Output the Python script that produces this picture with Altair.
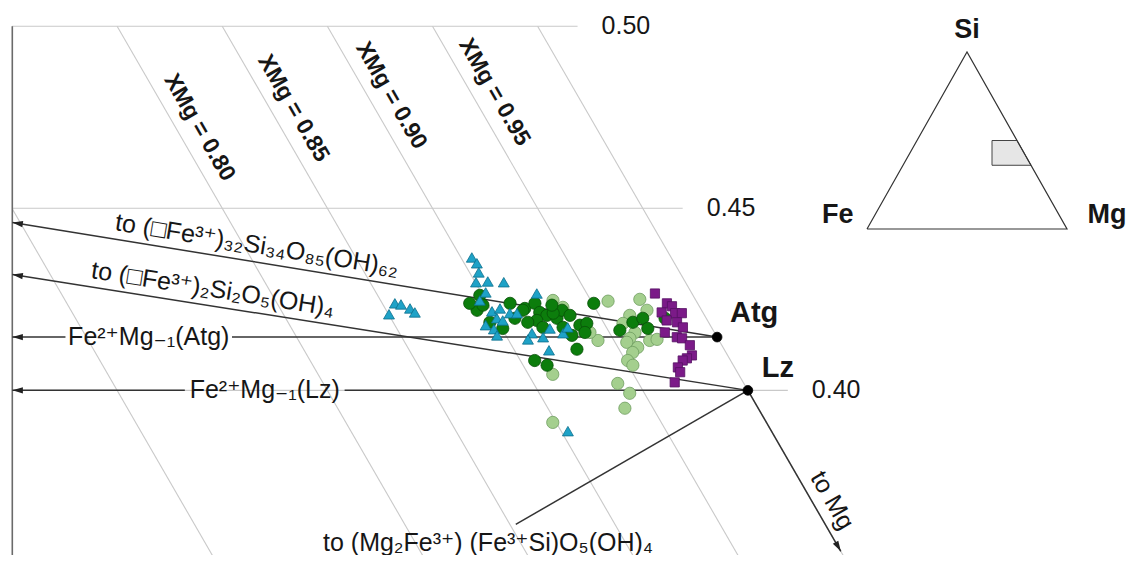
import math
import altair as alt
import pandas as pd

# ---------------- data (atomic fractions Si/(Si+Mg+Fe), Mg/(Si+Mg+Fe)) ----------------
cyan_si = [0.4365, 0.4349, 0.4324, 0.4297, 0.4299, 0.4297, 0.4269, 0.4247, 0.4239, 0.4236,
           0.4225, 0.4214, 0.4209, 0.4266, 0.4217, 0.4225, 0.4212, 0.4212, 0.4198, 0.4192,
           0.4179, 0.4168, 0.4151, 0.4157, 0.4140, 0.4146, 0.4170, 0.4157, 0.4110, 0.3888, 0.4173]
cyan_mg = [0.5161, 0.5181, 0.5198, 0.5205, 0.5232, 0.5271, 0.5242, 0.5239, 0.5041, 0.5057,
           0.5084, 0.5101, 0.5042, 0.5365, 0.5283, 0.5298, 0.5328, 0.5345, 0.5304, 0.5321,
           0.5287, 0.5312, 0.5328, 0.5408, 0.5407, 0.5440, 0.5444, 0.5482, 0.5472, 0.5628, 0.5485]

dgreen_si = [0.4261, 0.4220, 0.4234, 0.4187, 0.4170, 0.4239, 0.4225, 0.4239, 0.4214, 0.4206,
             0.4192, 0.4173, 0.4198, 0.4220, 0.4082, 0.4069, 0.4220, 0.4212, 0.4173, 0.4151,
             0.4206, 0.4179, 0.4184, 0.4159, 0.4239, 0.4113, 0.4165, 0.4187, 0.4198, 0.4170,
             0.4198, 0.4239, 0.4198, 0.4187, 0.4234]
dgreen_mg = [0.5232, 0.5246, 0.5253, 0.5293, 0.5332, 0.5315, 0.5357, 0.5374, 0.5398, 0.5419,
             0.5402, 0.5426, 0.5447, 0.5448, 0.5452, 0.5488, 0.5355, 0.5431, 0.5474, 0.5506,
             0.5474, 0.5511, 0.5525, 0.5533, 0.5514, 0.5537, 0.5613, 0.5633, 0.5651, 0.5677,
             0.5704, 0.5219, 0.5347, 0.5383, 0.5417]

lgreen_si = [0.4247, 0.4228, 0.4044, 0.3912, 0.4245, 0.4250, 0.4220, 0.4206, 0.4184, 0.4159,
             0.4143, 0.4132, 0.4118, 0.4104, 0.4137, 0.4140, 0.4137, 0.4159, 0.4082, 0.4069,
             0.4019, 0.3992, 0.3951]
lgreen_mg = [0.5413, 0.5446, 0.5514, 0.5580, 0.5545, 0.5618, 0.5650, 0.5616, 0.5611, 0.5652,
             0.5648, 0.5646, 0.5679, 0.5674, 0.5698, 0.5714, 0.5575, 0.5545, 0.5673, 0.5692,
             0.5681, 0.5723, 0.5732]

purple_si = [0.4266, 0.4239, 0.4231, 0.4214, 0.4212, 0.4212, 0.4192, 0.4187, 0.4173, 0.4159,
             0.4146, 0.4143, 0.4124, 0.4096, 0.4088, 0.4082, 0.4063, 0.4050, 0.4022]
purple_mg = [0.5646, 0.5688, 0.5704, 0.5688, 0.5721, 0.5737, 0.5711, 0.5738, 0.5759, 0.5723,
             0.5758, 0.5772, 0.5800, 0.5819, 0.5811, 0.5804, 0.5802, 0.5814, 0.5815]

# end members (Si, Mg fractions)
ATG = (34 / 82, 48 / 82)      # antigorite Mg48Si34O85(OH)62
LZ = (2 / 5, 3 / 5)           # lizardite Mg3Si2O5(OH)4
TO_A32 = (34 / 66, 0.0)       # (□Fe3+)32Si34O85(OH)62
TO_A2 = (0.5, 0.0)            # (□Fe3+)2Si2O5(OH)4
TO_CR = (0.2, 0.4)            # (Mg2Fe3+)(Fe3+Si)O5(OH)4
TO_MG = (0.0, 1.0)

SI_LEVELS = [0.50, 0.45, 0.40]
SI_LABELS = ["0.50", "0.45", "0.40"]
FE_LINES = [0.0, 0.025, 0.05, 0.075, 0.10, 0.15]
XMG_TEXT = ["XMg = 0.80", "XMg = 0.85", "XMg = 0.90", "XMg = 0.95"]
XMG_FE = [0.10, 0.075, 0.05, 0.025]
XMG_SI = [0.4722, 0.4775, 0.4810, 0.4819]

# inset triangle (u along base, v height) and zoom box
TRI_U = [0.0, 1.0, 0.5, 0.0]
TRI_V = [0.0, 0.0, 1.0, 0.0]
BOX_U_LEFT = 0.625
BOX_V = (0.36, 0.50)

# ---------------- layout ----------------
R3 = math.sqrt(3) / 2
PX = 4205.0                 # pixels per ternary unit
W, H = 1117, 547
X_LEFT = 0.625
S_TOP = 0.505
Y_TOP = S_TOP * R3
X_DOM = [X_LEFT, X_LEFT + W / PX]
Y_DOM = [Y_TOP - H / PX, Y_TOP]

# inset placement (pixels of the plot area)
IN_U0, IN_UPX = 855.0, 200.0
IN_V0, IN_VPX = 221.0, 177.0
U_DOM = [(0 - IN_U0) / IN_UPX, (W - IN_U0) / IN_UPX]
V_DOM = [(IN_V0 - H) / IN_VPX, IN_V0 / IN_VPX]

FONT = "Liberation Sans, DejaVu Sans, sans-serif"
DARK = "#333333"
GRID = "#c9c9c9"


def cart(si, mg):
    return mg + si / 2, si * R3


def along(p0, p1, t):
    return (p0[0] + t * (p1[0] - p0[0]), p0[1] + t * (p1[1] - p0[1]))


def t_at_left(p0, p1):
    x0, _ = cart(*p0)
    x1, _ = cart(*p1)
    return (X_LEFT + 0.4 / PX - x0) / (x1 - x0)


def heading(p0, p1):
    x0, y0 = cart(*p0)
    x1, y1 = cart(*p1)
    return math.degrees(math.atan2(-(y1 - y0), x1 - x0)) % 360


def seg(p, q):
    x, y = cart(*p)
    x2, y2 = cart(*q)
    return {"x": x, "y": y, "x2": x2, "y2": y2}


xs = alt.Scale(domain=X_DOM, nice=False, zero=False)
ys = alt.Scale(domain=Y_DOM, nice=False, zero=False)
EX = alt.X("x:Q", scale=xs, axis=None)
EY = alt.Y("y:Q", scale=ys, axis=None)

# ---- gray grid ----
fe_rows = [seg((0.5, 0.5 - f), (0.30, 0.70 - f)) for f in FE_LINES]
si_rows = [seg((s, X_LEFT - s / 2), (s, 1 - s + 0.0095)) for s in SI_LEVELS]
grid_fe = alt.Chart(pd.DataFrame(fe_rows)).mark_rule(color=GRID, strokeWidth=1.1, clip=True).encode(
    x=EX, y=EY, x2="x2:Q", y2="y2:Q")
grid_si = alt.Chart(pd.DataFrame(si_rows)).mark_rule(color=GRID, strokeWidth=1.1).encode(
    x=EX, y=EY, x2="x2:Q", y2="y2:Q")
axis_rows = [{"x": X_LEFT + 0.3 / PX, "y": 0.5 * R3, "x2": X_LEFT + 0.3 / PX, "y2": Y_DOM[0] - 0.01}]
left_axis = alt.Chart(pd.DataFrame(axis_rows)).mark_rule(color="#6a6a6a", strokeWidth=1.6).encode(
    x=EX, y=EY, x2="x2:Q", y2="y2:Q")

# ---- dark reaction vectors ----
ATG_GAP = (0.4502, 0.0198)   # label centre (Mg) and half gap
LZ_GAP = (0.4851, 0.0190)
dark_rows = []
heads = []
tA = t_at_left(ATG, TO_A32)
dark_rows.append(seg(ATG, along(ATG, TO_A32, tA)))
hx, hy = cart(*along(ATG, TO_A32, tA))
heads.append({"x": hx, "y": hy, "ang": heading(ATG, TO_A32)})
tB = t_at_left(LZ, TO_A2)
dark_rows.append(seg(LZ, along(LZ, TO_A2, tB)))
hx, hy = cart(*along(LZ, TO_A2, tB))
heads.append({"x": hx, "y": hy, "ang": heading(LZ, TO_A2)})
for p, gap in ((ATG, ATG_GAP), (LZ, LZ_GAP)):
    s = p[0]
    left = (s, X_LEFT + 0.4 / PX - s / 2)
    dark_rows.append(seg(left, (s, gap[0] - gap[1])))
    dark_rows.append(seg((s, gap[0] + gap[1]), p))
    hx, hy = cart(*left)
    heads.append({"x": hx, "y": hy, "ang": 180.0})
dark_rows.append(seg(LZ, along(LZ, TO_CR, 0.184)))
dark_rows.append(seg(along(LZ, TO_CR, 0.227), along(LZ, TO_CR, 0.2505)))
hx, hy = cart(*along(LZ, TO_CR, 0.2505))
heads.append({"x": hx, "y": hy, "ang": heading(LZ, TO_CR)})
dark_rows.append(seg(LZ, along(LZ, TO_MG, 0.1105)))
hx, hy = cart(*along(LZ, TO_MG, 0.1105))
heads.append({"x": hx, "y": hy, "ang": heading(LZ, TO_MG)})

dark = alt.Chart(pd.DataFrame(dark_rows)).mark_rule(color=DARK, strokeWidth=1.5).encode(
    x=EX, y=EY, x2="x2:Q", y2="y2:Q")
arrow_heads = alt.Chart(pd.DataFrame(heads)).mark_point(
    shape="M0,0L-2,-0.6L-2,0.6Z", filled=True, fill="#222222", strokeWidth=0, size=110, opacity=1
).encode(x=EX, y=EY, angle=alt.Angle("ang:Q", scale=None))


# ---- data points ----
def pts(si, mg):
    return pd.DataFrame([dict(zip(("x", "y"), cart(s, m))) for s, m in zip(si, mg)])


def player(si, mg, shape, fill, stroke, size):
    return alt.Chart(pts(si, mg)).mark_point(
        shape=shape, filled=True, fill=fill, stroke=stroke, strokeWidth=0.8, size=size, opacity=1
    ).encode(x=EX, y=EY)


p_lg = player(lgreen_si, lgreen_mg, "circle", "#a4cf8e", "#6f9d5f", 150)
p_dg = player(dgreen_si, dgreen_mg, "circle", "#0c7d0c", "#075007", 150)
p_cy = player(cyan_si, cyan_mg, "triangle-up", "#1ea2c7", "#0d6f8c", 120)
p_pu = player(purple_si, purple_mg, "square", "#7b1a88", "#561063", 85)
ends = player([ATG[0], LZ[0]], [ATG[1], LZ[1]], "circle", "#000000", "#000000", 95)


# ---- labels ----
def lab(text, p, dx=0.0, dy=0.0, ang=0.0):
    x, y = cart(*p)
    return {"x": x + dx / PX, "y": y - dy / PX, "t": text, "ang": ang}


norm = [lab(t, (s, 1 - s + 0.021)) for t, s in zip(SI_LABELS, SI_LEVELS)]
norm.append(lab("Fe²⁺Mg₋₁(Atg)", (ATG[0], ATG_GAP[0])))
norm.append(lab("Fe²⁺Mg₋₁(Lz)", (LZ[0], LZ_GAP[0])))
norm.append(lab("to (□Fe³⁺)₃₂Si₃₄O₈₅(OH)₆₂", along(ATG, TO_A32, 0.2045), dy=-17, ang=heading(TO_A32, ATG)))
norm.append(lab("to (□Fe³⁺)₂Si₂O₅(OH)₄", along(LZ, TO_A2, 0.2313), dy=-17, ang=heading(TO_A2, LZ)))
norm.append(lab("to (Mg₂Fe³⁺) (Fe³⁺Si)O₅(OH)₄", along(LZ, TO_CR, 0.206), dy=3))
norm.append(lab("to Mg", along(LZ, TO_MG, 0.0755), dx=21, ang=60))

bold = [lab("Atg", ATG, dx=37, dy=-24), lab("Lz", LZ, dx=30, dy=-22)]
xmg = [lab(t, (s, 1 - s - f), dx=24, ang=60) for t, s, f in zip(XMG_TEXT, XMG_SI, XMG_FE)]


def tlayer(rows, size, weight):
    return alt.Chart(pd.DataFrame(rows)).mark_text(
        font=FONT, fontSize=size, fontWeight=weight, color="#161616", align="center", baseline="middle"
    ).encode(x=EX, y=EY, text="t:N", angle=alt.Angle("ang:Q", scale=None))


t_norm = tlayer(norm, 25, "normal")
t_bold = tlayer(bold, 29, "bold")
t_xmg = tlayer(xmg, 23, "bold")

main = alt.layer(grid_fe, grid_si, left_axis, dark, arrow_heads,
                 p_lg, p_dg, p_cy, p_pu, ends, t_norm, t_bold, t_xmg)

# ---- inset ----
us = alt.Scale(domain=U_DOM, nice=False, zero=False)
vs = alt.Scale(domain=V_DOM, nice=False, zero=False)
IU = alt.X("u:Q", scale=us, axis=None)
IV = alt.Y("v:Q", scale=vs, axis=None)

vb, vt = BOX_V
box = pd.DataFrame([
    {"u": BOX_U_LEFT, "v": vt, "v2": vb},
    {"u": 1 - vt / 2, "v": vt, "v2": vb},
    {"u": 1 - vb / 2, "v": vb, "v2": vb},
])
box_l = alt.Chart(box).mark_area(fill="#e6e6e6", stroke="#444444", strokeWidth=1, opacity=1).encode(
    x=IU, y=IV, y2="v2:Q")
tri = pd.DataFrame({"u": TRI_U, "v": TRI_V, "o": list(range(len(TRI_U)))})
tri_l = alt.Chart(tri).mark_line(color="#333333", strokeWidth=1.2).encode(x=IU, y=IV, order="o:O")
ilabels = pd.DataFrame([
    {"u": 0.50, "v": 1.124, "t": "Si"},
    {"u": -0.146, "v": 0.079, "t": "Fe"},
    {"u": 1.2, "v": 0.079, "t": "Mg"},
])
ilab_l = alt.Chart(ilabels).mark_text(
    font=FONT, fontSize=27, fontWeight="bold", color="#161616", align="center", baseline="middle"
).encode(x=IU, y=IV, text="t:N")
inset = alt.layer(box_l, tri_l, ilab_l)

chart = alt.layer(main, inset).resolve_scale(x="independent", y="independent").properties(
    width=W, height=H,
    padding={"left": 4, "top": 0, "right": 0, "bottom": 0},
    autosize=alt.AutoSizeParams(type="none"),
).configure_view(stroke=None)

chart.save("out.html", embed_options={"renderer": "svg", "actions": False})
